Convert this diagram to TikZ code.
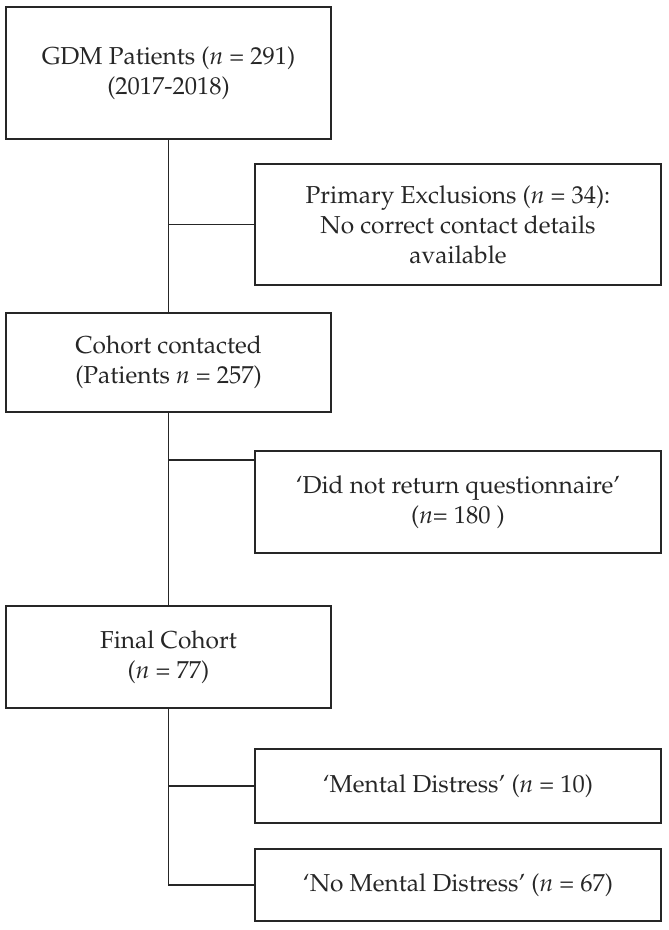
\documentclass[tikz,border=0pt]{standalone}
\usepackage[T1]{fontenc}
\usepackage{mathpazo}
\begin{document}
\begin{tikzpicture}[x=1pt,y=-1pt,
  box/.style={draw=black!85, line width=1.9pt, rectangle, inner sep=0pt, outer sep=0pt,
    align=center, text=black!85, font=\fontsize{24.5}{30}\selectfont},
  wide/.style={box, minimum width=325pt},
  side/.style={box, minimum width=406pt},
  link/.style={draw=black!85, line width=1.9pt}]
\useasboundingbox (0,0) rectangle (669,930);
\node[wide, minimum height=132pt] (b1) at (168.5,73) {GDM Patients (\textit{n} = 291)\\(2017-2018)};
\node[side, minimum height=121pt] (b2) at (458,224.5) {Primary Exclusions (\textit{n} = 34):\\No correct contact details\\available};
\node[wide, minimum height=99pt] (b3) at (168.5,362.5) {Cohort contacted\\(Patients \textit{n} = 257)};
\node[side, minimum height=102pt] (b4) at (458,502) {`Did not return questionnaire'\\(\textit{n}= 180 )};
\node[wide, minimum height=102pt] (b5) at (168.5,657) {Final Cohort\\(\textit{n} = 77)};
\node[side, minimum height=74pt] (b6) at (458,786) {`Mental Distress' (\textit{n} = 10)};
\node[side, minimum height=72pt] (b7) at (458,885) {`No Mental Distress' (\textit{n} = 67)};
\coordinate (j2) at (168.5,460);
\path[link] (b1.south) -- (b3.north);
\path[link] (b3.south) -- (b5.north);
\path[link] (b5.south) |- (b7.west);
\path[link] (b1.south |- b2.west) -- (b2.west);
\path[link] (j2) -- (j2 -| b4.west);
\path[link] (b5.south |- b6.west) -- (b6.west);
\end{tikzpicture}
\end{document}
